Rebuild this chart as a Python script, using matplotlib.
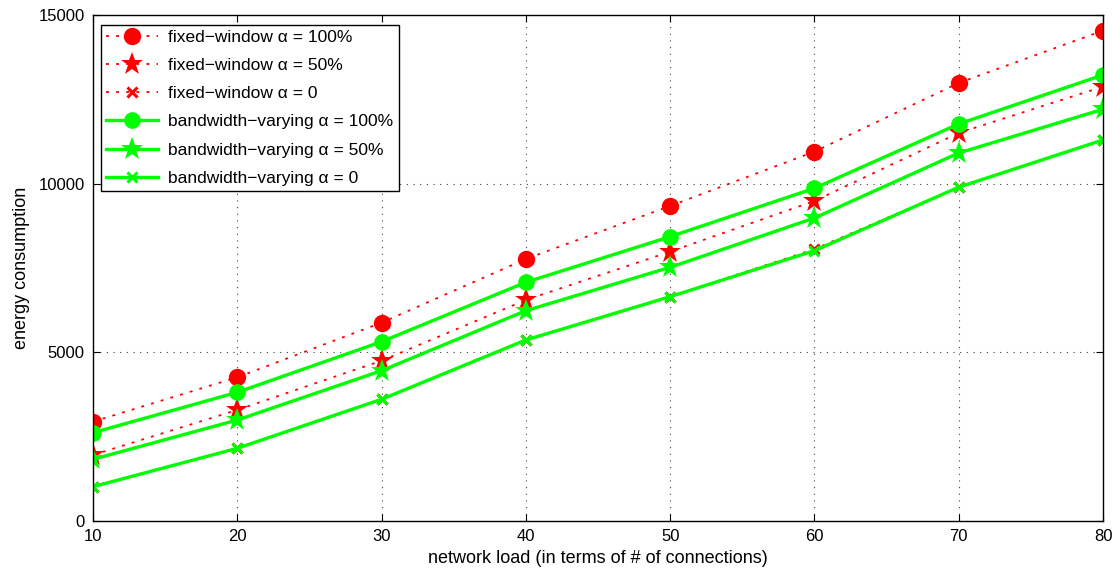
import matplotlib
matplotlib.use("Agg")
import matplotlib.pyplot as plt

plt.rcParams['font.family'] = ['Liberation Sans', 'DejaVu Sans']

# network load (number of connections)
load = [10, 20, 30, 40, 50, 60, 70, 80]

# energy consumption, fixed-window scheme
fixed_a100 = [2944, 4260, 5879, 7767, 9339, 10949, 12985, 14536]
fixed_a50 = [1957, 3291, 4752, 6552, 7984, 9487, 11503, 12876]
fixed_a0 = [1017, 2155, 3608, 5366, 6650, 8060, 9896, 11296]

# energy consumption, bandwidth-varying scheme
bw_a100 = [2618, 3815, 5316, 7077, 8429, 9864, 11770, 13223]
bw_a50 = [1829, 2994, 4456, 6235, 7521, 8983, 10910, 12206]
bw_a0 = [1017, 2155, 3608, 5366, 6650, 8013, 9896, 11296]

labels = [
    "fixed\u2212window \u03b1 = 100%",
    "fixed\u2212window \u03b1 = 50%",
    "fixed\u2212window \u03b1 = 0",
    "bandwidth\u2212varying \u03b1 = 100%",
    "bandwidth\u2212varying \u03b1 = 50%",
    "bandwidth\u2212varying \u03b1 = 0",
]

xticks = [10, 20, 30, 40, 50, 60, 70, 80]
yticks = [0, 5000, 10000, 15000]

fig = plt.figure(figsize=(11.18, 5.72), dpi=100)
ax = fig.add_axes([0.0832, 0.0892, 0.9034, 0.8846])

red = "#ff0000"
green = "#00ff00"
dot = (0, (1.6, 4.0))

ax.plot(load, fixed_a100, color=red, linestyle=dot, lw=1.3, marker="o",
        markersize=12.5, markeredgewidth=0, label=labels[0])
ax.plot(load, fixed_a50, color=red, linestyle=dot, lw=1.3, marker="*",
        markersize=17, markeredgewidth=0, label=labels[1])
ax.plot(load, fixed_a0, color=red, linestyle=dot, lw=1.3, marker="x",
        markersize=7, markeredgewidth=2.2, label=labels[2])
ax.plot(load, bw_a100, color=green, linestyle="-", lw=2.4, marker="o",
        markersize=12, markeredgewidth=0, label=labels[3])
ax.plot(load, bw_a50, color=green, linestyle="-", lw=2.4, marker="*",
        markersize=17, markeredgewidth=0, label=labels[4])
ax.plot(load, bw_a0, color=green, linestyle="-", lw=2.4, marker="x",
        markersize=7, markeredgewidth=2.2, label=labels[5])

ax.set_xlim(10, 80)
ax.set_ylim(0, 15000)
ax.set_xticks(xticks)
ax.set_yticks(yticks)
ax.tick_params(direction="in", length=5, width=0.8, labelsize=12,
               top=True, right=True, pad=6)
for s in ax.spines.values():
    s.set_linewidth(1.0)
    s.set_color("black")
    s.set_zorder(5)

ax.grid(True, color="0.25", linestyle=(0, (1, 5)), linewidth=0.8)
ax.set_axisbelow(True)

ax.set_xlabel("network load (in terms of # of connections)", fontsize=13,
              labelpad=4)
ax.set_ylabel("energy consumption", fontsize=13, labelpad=6)

leg = ax.legend(loc="upper left", bbox_to_anchor=(0.0075, 0.981),
                fontsize=12.5, frameon=True, fancybox=False, shadow=False,
                handlelength=3.0, handletextpad=0.6, labelspacing=0.75,
                borderpad=0.3, borderaxespad=0, numpoints=1)
leg.get_frame().set_edgecolor("black")
leg.get_frame().set_linewidth(1.0)
leg.get_frame().set_alpha(1.0)

fig.savefig("out.png", dpi=100)
